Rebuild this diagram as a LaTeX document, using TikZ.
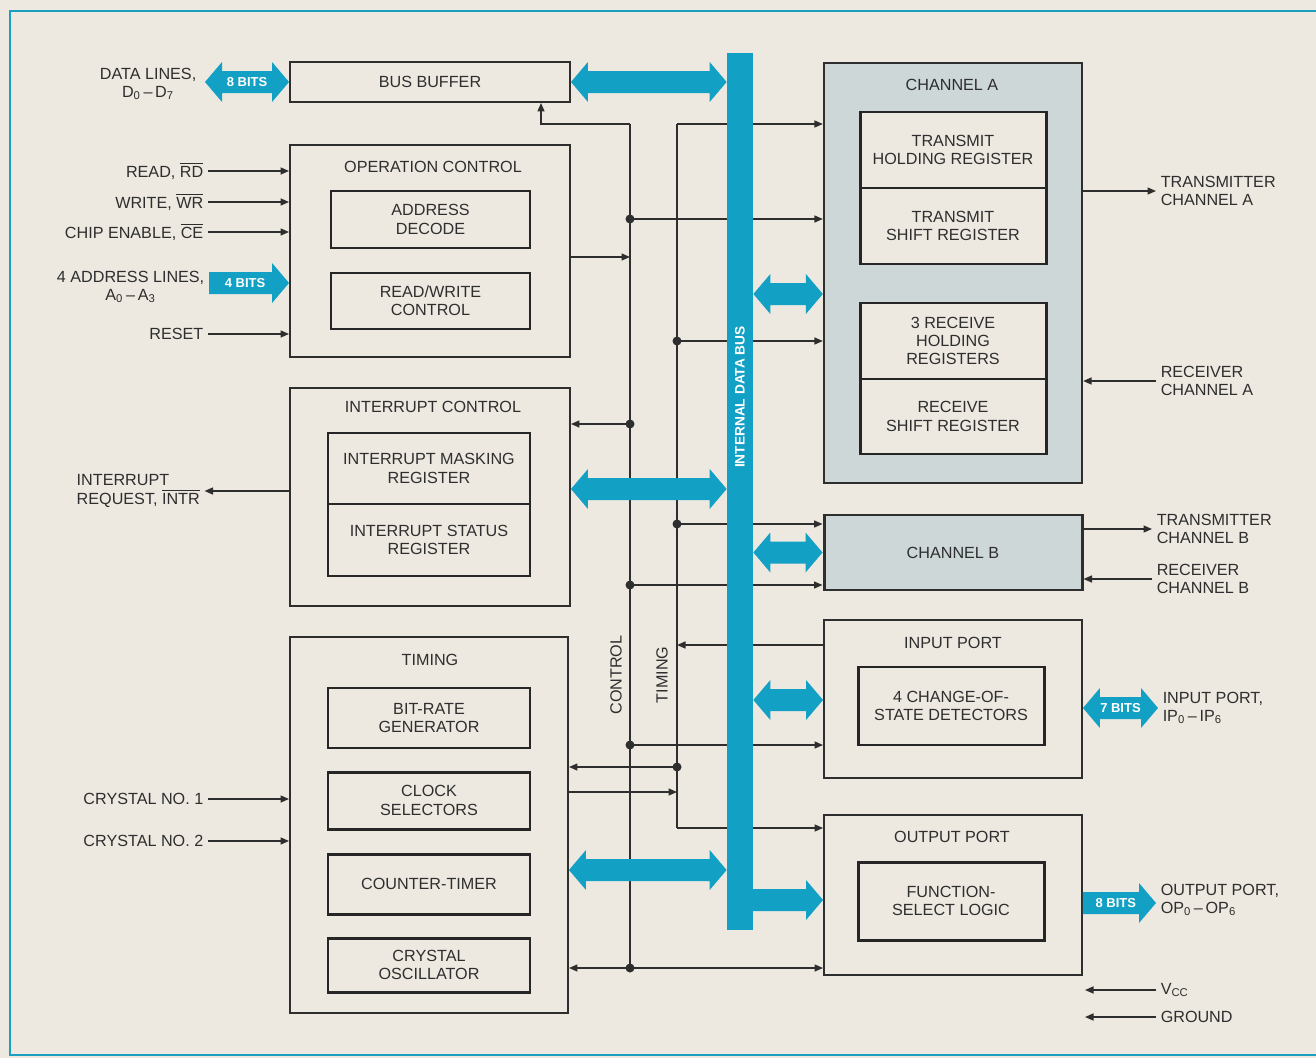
\documentclass[tikz,border=0pt]{standalone}
\usepackage{fontspec}
\setmainfont{Liberation Sans}
\usetikzlibrary{arrows.meta,fit,calc}
\definecolor{bg}{HTML}{EDE9E1}
\definecolor{teal1}{HTML}{12A0C5}
\definecolor{ink}{HTML}{2E2E2E}
\definecolor{chfill}{HTML}{CDD7D8}
\definecolor{framec}{HTML}{1B9FC0}
\newcommand\dblarrow[2]{\fill[teal1] (#1) -- ($(#1)+(17,-20)$) -- ($(#1)+(17,-11)$) -- ($(#2)+(-17,-11)$) -- ($(#2)+(-17,-20)$) -- (#2) -- ($(#2)+(-17,20)$) -- ($(#2)+(-17,11)$) -- ($(#1)+(17,11)$) -- ($(#1)+(17,20)$) -- cycle;}
\newcommand\rarrow[2]{\fill[teal1] ($(#1)+(0,-11)$) -- ($(#2)+(-17,-11)$) -- ($(#2)+(-17,-20)$) -- (#2) -- ($(#2)+(-17,20)$) -- ($(#2)+(-17,11)$) -- ($(#1)+(0,11)$) -- cycle;}
\newcommand\ovl[1]{$\overline{\hbox{#1}}$}
\begin{document}
\begin{tikzpicture}[x=0.02cm,y=-0.02cm,
  every node/.style={font=\fontsize{9.2}{10.4}\selectfont, text=ink, inner sep=2.5pt},
  outer/.style={draw=ink, line width=1.1pt, fill=bg, inner sep=0pt},
  inbox/.style={draw=black!85, line width=1.7pt, fill=bg, inner sep=0pt},
  chan/.style={draw=ink, line width=1.3pt, fill=chfill, inner sep=0pt},
  btxt/.style={align=center},
  conn/.style={draw=ink, line width=0.8pt, -{Triangle[length=0.17cm,width=0.14cm]}},
  wire/.style={draw=ink, line width=0.8pt},
  jdot/.style={circle, fill=ink, inner sep=0pt, minimum size=0.18cm},
  bits/.style={text=white, font=\fontsize{7.4}{8}\selectfont\bfseries},
  vlab/.style={rotate=90}
]
\useasboundingbox (0,0) rectangle (1316,1058);
\fill[bg] (0,0) rectangle (1316,1058);
\draw[framec, line width=1.6pt] (1330,11) -- (10,11) -- (10,1055) -- (1330,1055);

% ---------- left column boxes
\node[outer, fit={(290,62) (570,102)}] (bb) {};
\node[btxt] at (bb.center) {BUS BUFFER};

\node[outer, fit={(290,145) (570,357)}] (op) {};
\node (opt) at (433,167) {OPERATION CONTROL};
\node[inbox, fit={(331,191) (530,248)}] (ad) {};
\node[btxt] at (ad.center) {ADDRESS\\DECODE};
\node[inbox, fit={(331,273) (530,329)}] (rw) {};
\node[btxt] at (rw.center) {READ/WRITE\\CONTROL};

\node[outer, fit={(290,388) (570,606)}] (ic) {};
\node (ict) at (433,407) {INTERRUPT CONTROL};
\node[inbox, fit={(328,433) (530,504)}] (imr) {};
\node[btxt] at (imr.center) {INTERRUPT MASKING\\REGISTER};
\node[inbox, fit={(328,504) (530,576)}] (isr) {};
\node[btxt] at (isr.center) {INTERRUPT STATUS\\REGISTER};

\node[outer, fit={(290,637) (568,1013)}] (tm) {};
\node (tmt) at (430,660) {TIMING};
\node[inbox, fit={(328,688) (530,748)}] (brg) {};
\node[btxt] at (brg.center) {BIT-RATE\\GENERATOR};
\node[inbox, fit={(328,772) (530,829)}] (cks) {};
\node[btxt] at (cks.center) {CLOCK\\SELECTORS};
\node[inbox, fit={(328,854) (530,914)}] (ctr) {};
\node[btxt] at (ctr.center) {COUNTER-TIMER};
\node[inbox, fit={(328,938) (530,992)}] (xo) {};
\node[btxt] at (xo.center) {CRYSTAL\\OSCILLATOR};

% ---------- right column boxes
\node[chan, fit={(824,63) (1082,483)}] (chA) {};
\node (chAt) at (952,85) {CHANNEL A};
\node[inbox, fit={(860,112) (1046,188)}] (thr) {};
\node[btxt] at (thr.center) {TRANSMIT\\HOLDING REGISTER};
\node[inbox, fit={(860,188) (1046,264)}] (tsr) {};
\node[btxt] at (tsr.center) {TRANSMIT\\SHIFT REGISTER};
\node[inbox, fit={(860,303) (1046,379)}] (rhr) {};
\node[btxt] at (rhr.center) {3 RECEIVE\\HOLDING\\REGISTERS};
\node[inbox, fit={(860,379) (1046,454)}] (rsr) {};
\node[btxt] at (rsr.center) {RECEIVE\\SHIFT REGISTER};

\node[chan, line width=1.7pt, fit={(824,515) (1082,590)}] (chB) {};
\node[btxt] at (chB.center) {CHANNEL B};

\node[outer, fit={(824,620) (1082,778)}] (inp) {};
\node (inpt) at (953,643) {INPUT PORT};
\node[inbox, fit={(858,667) (1044,745)}] (cos) {};
\node[btxt] at (cos.center) {4 CHANGE-OF-\\STATE DETECTORS};

\node[outer, fit={(824,815) (1082,975)}] (outp) {};
\node (outpt) at (952,837) {OUTPUT PORT};
\node[inbox, fit={(858,862) (1044,940)}] (fsl) {};
\node[btxt] at (fsl.center) {FUNCTION-\\SELECT LOGIC};

% ---------- outside labels
\node[anchor=east, align=center] (dl) at (201,84) {DATA LINES,\\D\textsubscript{0}\,--\,D\textsubscript{7}};
\node[anchor=east] (rd) at (208,171) {READ, \ovl{RD}};
\node[anchor=east] (wr) at (208,202) {WRITE, \ovl{WR}};
\node[anchor=east] (ce) at (208,232) {CHIP ENABLE, \ovl{CE}};
\node[anchor=east, align=center] (addr) at (209,287) {4 ADDRESS LINES,\\A\textsubscript{0}\,--\,A\textsubscript{3}};
\node[anchor=east] (rst) at (208,334) {RESET};
\node[anchor=west, align=left] (intr) at (72,491) {INTERRUPT\\REQUEST, \ovl{INTR}};
\node[anchor=east] (x1) at (208,799) {CRYSTAL NO. 1};
\node[anchor=east] (x2) at (208,841) {CRYSTAL NO. 2};

\node[anchor=west, align=left] (txa) at (1156,191) {TRANSMITTER\\CHANNEL A};
\node[anchor=west, align=left] (rxa) at (1156,381) {RECEIVER\\CHANNEL A};
\node[anchor=west, align=left] (txb) at (1152,529) {TRANSMITTER\\CHANNEL B};
\node[anchor=west, align=left] (rxb) at (1152,579) {RECEIVER\\CHANNEL B};
\node[anchor=west, align=left] (ipl) at (1158,708) {INPUT PORT,\\IP\textsubscript{0}\,--\,IP\textsubscript{6}};
\node[anchor=west, align=left] (opl) at (1156,900) {OUTPUT PORT,\\OP\textsubscript{0}\,--\,OP\textsubscript{6}};
\node[anchor=west] (vcc) at (1156,990) {V\textsubscript{CC}};
\node[anchor=west] (gnd) at (1156,1017) {GROUND};
\coordinate (vccend) at (1085,990);
\coordinate (gndend) at (1085,1017);

% ---------- input/output thin connectors
\draw[conn] (rd.east) -- (op.west |- rd.east);
\draw[conn] (wr.east) -- (op.west |- wr.east);
\draw[conn] (ce.east) -- (op.west |- ce.east);
\draw[conn] (rst.east) -- (op.west |- rst.east);
\draw[conn] (ic.west |- intr.east) -- (intr.east);
\draw[conn] (x1.east) -- (tm.west |- x1.east);
\draw[conn] (x2.east) -- (tm.west |- x2.east);
\draw[conn] (chA.east |- txa.west) -- (txa.west);
\draw[conn] (rxa.west) -- (chA.east |- rxa.west);
\draw[conn] (chB.east |- txb.west) -- (txb.west);
\draw[conn] (rxb.west) -- (chB.east |- rxb.west);
\draw[conn] (vcc.west) -- (vccend);
\draw[conn] (gnd.west) -- (gndend);

% ---------- control and timing lines
\coordinate (bbtap) at (541,124);
\coordinate (c124) at (630,124);
\coordinate (c219) at (630,219);
\coordinate (c257) at (630,257);
\coordinate (c424) at (630,424);
\coordinate (c585) at (630,585);
\coordinate (c745) at (630,745);
\coordinate (c968) at (630,968);
\coordinate (t124) at (677,124);
\coordinate (t341) at (677,341);
\coordinate (t524) at (677,524);
\coordinate (t645) at (677,645);
\coordinate (t767) at (677,767);
\coordinate (t792) at (677,792);
\coordinate (t828) at (677,828);

\draw[wire] (c124) -- (c968);
\draw[wire] (t124) -- (t828);
\draw[conn] (c124) -- (bbtap) -- (bb.south -| bbtap);
\draw[conn] (t124) -- (chA.west |- t124);
\draw[conn] (c219) -- (chA.west |- c219);
\draw[conn] (op.east |- c257) -- (c257);
\draw[conn] (t341) -- (chA.west |- t341);
\draw[conn] (c424) -- (ic.east |- c424);
\draw[conn] (t524) -- (chB.west |- t524);
\draw[conn] (c585) -- (chB.west |- c585);
\draw[conn] (inp.west |- t645) -- (t645);
\draw[conn] (c745) -- (inp.west |- c745);
\draw[conn] (t767) -- (tm.east |- t767);
\draw[conn] (tm.east |- t792) -- (t792);
\draw[conn] (t828) -- (outp.west |- t828);
\draw[conn] (c968) -- (tm.east |- c968);
\draw[conn] (c968) -- (outp.west |- c968);
\foreach \p in {c219,c424,c585,c745,c968,t341,t524,t767} \node[jdot] at (\p) {};

\node[vlab] (ctl) at (616,675) {CONTROL};
\node[vlab] (tml) at (662,675) {TIMING};

% ---------- internal data bus
\node[fill=teal1, inner sep=0pt, fit={(727,53) (753,930)}] (bus) {};
\node[vlab, text=white, font=\fontsize{7.8}{8}\selectfont\bfseries] (busl) at (740,397) {INTERNAL DATA BUS};

\coordinate (y489) at (0,489);
\coordinate (y870) at (0,870);
\coordinate (y294) at (0,294);
\coordinate (y700) at (0,700);
\coordinate (y900) at (0,900);
\coordinate (y283) at (0,283);
\coordinate (y708) at (0,708);
\coordinate (y903) at (0,903);

\dblarrow{bb.east}{bus.west |- bb.east}
\dblarrow{ic.east |- y489}{bus.west |- y489}
\dblarrow{tm.east |- y870}{bus.west |- y870}
\dblarrow{bus.east |- y294}{chA.west |- y294}
\dblarrow{bus.east |- chB.west}{chB.west}
\dblarrow{bus.east |- y700}{inp.west |- y700}
\rarrow{bus.center |- y900}{outp.west |- y900}

% ---------- external bit arrows
\coordinate (d1) at ($(dl.east |- bb.west)+(4,0)$);
\dblarrow{d1}{bb.west}
\node[bits] (b8) at ($(d1)!0.5!(bb.west)$) {8 BITS};
\coordinate (a1) at (addr.east |- y283);
\rarrow{a1}{op.west |- y283}
\node[bits] (b4) at ($(a1)!0.45!(op.west |- y283)$) {4 BITS};
\coordinate (ip1) at (inp.east |- y708);
\coordinate (ip2) at (ipl.west |- y708);
\dblarrow{ip1}{ip2}
\node[bits] (b7) at ($(ip1)!0.5!(ip2)$) {7 BITS};
\coordinate (op1) at (outp.east |- y903);
\coordinate (op2) at (opl.west |- y903);
\rarrow{op1}{op2}
\node[bits] (b8o) at ($(op1)!0.45!(op2)$) {8 BITS};
\end{tikzpicture}
\end{document}
